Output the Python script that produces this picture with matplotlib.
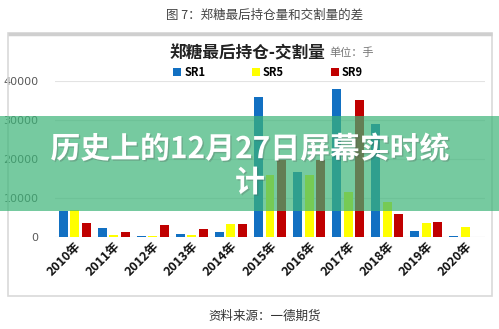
import numpy as np
import matplotlib
matplotlib.use('Agg')
import matplotlib.pyplot as plt
from matplotlib.patches import Rectangle
import matplotlib.patheffects as pe

plt.rcParams['font.family'] = ['Noto Sans CJK SC', 'DejaVu Sans']

years = ['2010年', '2011年', '2012年', '2013年', '2014年', '2015年',
         '2016年', '2017年', '2018年', '2019年', '2020年']
sr1 = [6600, 2300, 150, 700, 1300, 35900, 16700, 37900, 29000, 1500, 250]
sr5 = [6800, 400, 150, 500, 3300, 15900, 15900, 11500, 9000, 3500, 2600]
sr9 = [3600, 1300, 3100, 2100, 3400, 19700, 19700, 35100, 5900, 3800, 0]
yticks = [0, 10000, 20000, 30000, 40000]

W, H = 499, 329
fig = plt.figure(figsize=(W/100, H/100), dpi=100)

# chart frame
fig.patches.append(Rectangle((8/W, 1-296/H), 484/W, 263/H, transform=fig.transFigure,
                             fill=False, edgecolor='#d9d9d9', lw=1.2))
fig.patches.append(Rectangle((8/W, 1-34/H), 484/W, 0, transform=fig.transFigure,
                             fill=False, edgecolor='#cfcfcf', lw=2.5))

ax = fig.add_axes([55/W, 1-237/H, 430/W, 156/H])
x = np.arange(len(years))
bw = 0.23
step = 0.295
ax.bar(x-step, sr1, bw, color='#1270c2', label='SR1', zorder=3)
ax.bar(x, sr5, bw, color='#ffff00', label='SR5', zorder=3)
ax.bar(x+step, sr9, bw, color='#c00000', label='SR9', zorder=3)

ax.set_xlim(-0.5, 10.5)
ax.set_ylim(0, 40000)
ax.set_yticks(yticks)
ax.set_yticklabels([str(v) for v in yticks], color='#595959', fontsize=8, family='DejaVu Sans')
ax.grid(axis='y', color='#e3e3e3', lw=0.8, zorder=0)
ax.tick_params(axis='y', length=0, pad=12)
ax.tick_params(axis='x', length=0, pad=2)
ax.set_xticks(x)
ax.set_xticklabels(years, rotation=45, ha='right', rotation_mode='anchor',
                   fontsize=9, fontweight='bold', color='#111111')
for s in ax.spines.values():
    s.set_visible(False)
ax.axhline(0, color='#d9d9d9', lw=0.8, zorder=2)

ax.legend(loc='center', bbox_to_anchor=(268/W, 1-72/H), bbox_transform=fig.transFigure,
          ncol=3, frameon=False, handlelength=0.7, handleheight=0.7, handletextpad=0.3,
          columnspacing=4.2, prop={'size': 8, 'weight': 'bold'})

fig.text(325/W, 1-53/H, '郑糖最后持仓-交割量', ha='right', va='center', fontsize=12,
         fontweight='bold', color='#222222')
fig.text(329/W, 1-53/H, '单位：手', ha='left', va='center', fontsize=8, color='#777777')

fig.text(265/W, 1-15/H, '图 7：郑糖最后持仓量和交割量的差', ha='center', va='center',
         fontsize=9, color='#444444')
fig.text(265/W, 1-316/H, '资料来源：一德期货', ha='center', va='center',
         fontsize=9, color='#333333')

# overlay banner
fig.patches.append(Rectangle((0, 1-211/H), 1, 95/H, transform=fig.transFigure,
                             facecolor=(60/255, 180/255, 120/255), alpha=0.7,
                             edgecolor='none', zorder=10))
fig.text(250/W, 1-166/H, '历史上的12月27日屏幕实时统\n计', ha='center', va='center',
         fontsize=21.5, fontweight='bold', color='white', linespacing=1.15, zorder=11,
         path_effects=[pe.withSimplePatchShadow(offset=(1, -1), alpha=0.25)])

fig.savefig('out.png', dpi=100)
